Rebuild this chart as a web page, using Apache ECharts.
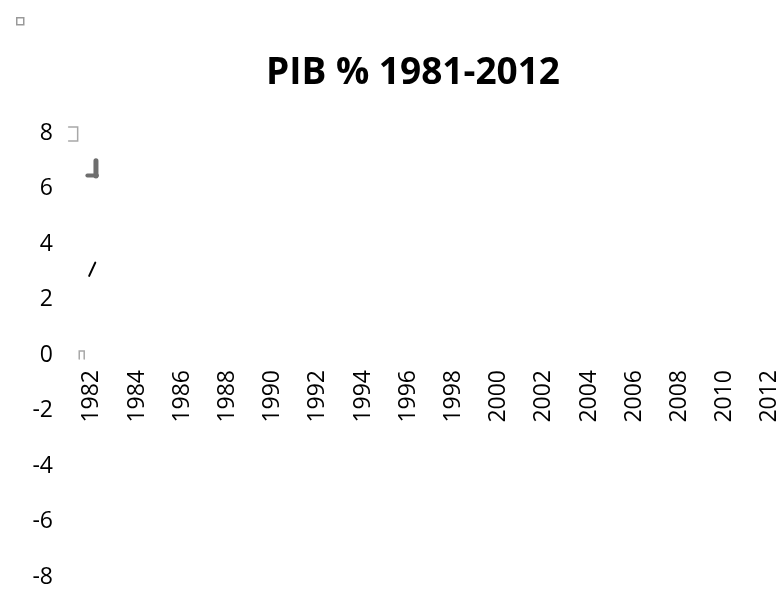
<!DOCTYPE html>
<html>
<head>
<meta charset="utf-8">
<script src="https://cdn.jsdelivr.net/npm/echarts@6/dist/echarts.min.js"></script>
<style>
html,body{margin:0;padding:0;background:#fff;}
#chart{width:781px;height:591px;}
</style>
</head>
<body>
<div id="chart"></div>
<script>
// Categories / tick labels
const years = ['1981','1982','1983','1984','1985','1986','1987','1988','1989','1990',
  '1991','1992','1993','1994','1995','1996','1997','1998','1999','2000',
  '2001','2002','2003','2004','2005','2006','2007','2008','2009','2010','2011','2012'];
const yTicks = [-8, -6, -4, -2, 0, 2, 4, 6, 8];

// Marks visible near 1982 (x in fractional years, y in %)
const slashX = [1981.88, 1982.15];
const slashY = [2.85, 3.33];
const stemX = [1982.18, 1982.18];
const stemY = [7.00, 6.45];
const footX = [1981.80, 1982.22];
const footY = [6.47, 6.47];
const bracketX = [1980.97, 1981.37, 1981.37, 1980.97];
const bracketY = [8.22, 8.22, 7.71, 7.71];
const capX = [1981.44, 1981.44, 1981.66, 1981.66];
const capY = [-0.14, 0.14, 0.14, -0.14];

const pairs = (xs, ys) => xs.map((x, i) => [x, ys[i]]);

const GRID_TOP = 133, GRID_BOTTOM = 14, H = 591;
const gridH = H - GRID_TOP - GRID_BOTTOM;
const yMin = yTicks[0], yMax = yTicks[yTicks.length - 1];
// distance from grid bottom to the y = 0 line (axis crosses at zero)
const zeroOffset = gridH * (0 - yMin) / (yMax - yMin);

const chart = echarts.init(document.getElementById('chart'));
const lineSeries = (name, xs, ys, color, width) => ({
  name: name,
  type: 'line',
  xAxisIndex: 1,
  yAxisIndex: 0,
  data: pairs(xs, ys),
  symbol: 'none',
  clip: false,
  silent: true,
  lineStyle: { color: color, width: width, cap: 'round', join: 'miter' },
  itemStyle: { color: color }
});

chart.setOption({
  animation: false,
  backgroundColor: '#fff',
  title: {
    text: 'PIB % 1981-2012',
    left: 408,
    textAlign: 'center',
    top: 50,
    textStyle: { fontFamily: 'Open Sans', fontWeight: 'bold', fontSize: 37, color: '#000' }
  },
  legend: {
    left: 11,
    top: 12,
    itemWidth: 7,
    itemHeight: 7,
    icon: 'rect',
    formatter: () => '',
    selectedMode: false,
    data: [{ name: 'PIB', itemStyle: { color: '#fff', borderColor: '#999', borderWidth: 1.5 } }]
  },
  grid: { left: 58, right: 0, top: GRID_TOP, bottom: GRID_BOTTOM, containLabel: false, outerBoundsMode: 'none' },
  xAxis: [
    {
      type: 'category',
      data: years,
      boundaryGap: true,
      position: 'bottom',
      offset: -zeroOffset,
      axisLine: { show: false, onZero: false },
      axisTick: { show: false },
      splitLine: { show: false },
      axisLabel: {
        rotate: 90,
        interval: 0,
        margin: 15,
        fontFamily: 'Open Sans',
        fontSize: 23,
        color: '#000',
        formatter: (v, i) => (i % 2 === 1 ? v : '')
      }
    },
    {
      type: 'value',
      min: 1980.5,
      max: 2012.5,
      position: 'top',
      show: false,
      axisLine: { onZero: false }
    }
  ],
  yAxis: {
    type: 'value',
    min: yMin,
    max: yMax,
    interval: 2,
    axisLine: { show: false },
    axisTick: { show: false },
    splitLine: { show: false },
    axisLabel: { margin: 5, fontFamily: 'Open Sans', fontSize: 23, color: '#000' }
  },
  series: [
    lineSeries('PIB', slashX, slashY, '#000', 2),
    lineSeries('stem', stemX, stemY, '#6e6e6e', 5),
    lineSeries('foot', footX, footY, '#6e6e6e', 4),
    lineSeries('bracket', bracketX, bracketY, '#a8a8a8', 1.5),
    lineSeries('cap', capX, capY, '#a8a8a8', 1.5)
  ]
});
</script>
</body>
</html>
